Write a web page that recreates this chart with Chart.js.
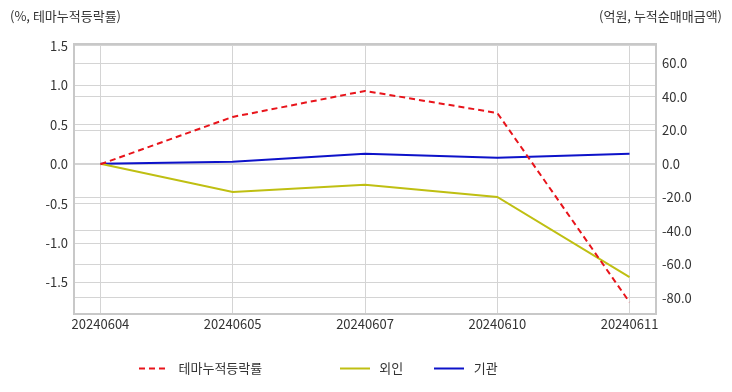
<!DOCTYPE html>
<html>
<head>
<meta charset="utf-8">
<script src="https://cdn.jsdelivr.net/npm/chart.js@4.4.1/dist/chart.umd.min.js"></script>
<style>
html,body{margin:0;padding:0;background:#fff;}
#wrap{width:732px;height:392px;position:relative;}
</style>
</head>
<body>
<div id="wrap"><canvas id="c" width="732" height="392"></canvas></div>
<script>
// data
const dates=["20240604","20240605","20240607","20240610","20240611"];
const themeRate=[0.0,0.60,0.93,0.65,-1.75];     // %, left axis
const foreign=[0.0,-16.8,-12.6,-19.8,-67.7];    // 억원, right axis
const inst=[0.0,1.2,6.0,3.6,6.0];               // 억원, right axis
const leftTicks=[-1.5,-1.0,-0.5,0.0,0.5,1.0,1.5];
const rightTicks=[-80,-60,-40,-20,0,20,40,60];

const FONT="'Noto Sans CJK KR','Noto Sans',sans-serif";
const TXT="#333";
const GRID="#d4d4d4";

const toPts=arr=>arr.map((v,i)=>({x:i,y:v}));

// little line swatch for legend
function swatch(color,dash){
  const c=document.createElement("canvas");c.width=30;c.height=4;
  const g=c.getContext("2d");
  g.strokeStyle=color;g.lineWidth=2;g.setLineDash(dash||[]);
  g.beginPath();g.moveTo(0,2);g.lineTo(30,2);g.stroke();
  return c;
}

// axis captions on top
const captions={
  id:"captions",
  afterDraw(chart){
    const ctx=chart.ctx;
    ctx.save();
    ctx.font="13px "+FONT;
    ctx.fillStyle=TXT;
    ctx.textBaseline="middle";
    ctx.textAlign="left";
    ctx.fillText("(%, 테마누적등락률)",10,16);
    ctx.textAlign="right";
    ctx.fillText("(억원, 누적순매매금액)",722,16);
    ctx.restore();
  }
};
// frame around plot
const frame={
  id:"frame",
  beforeDatasetsDraw(chart){
    const a=chart.chartArea,ctx=chart.ctx;
    ctx.save();
    ctx.strokeStyle="#c8c8c8";ctx.lineWidth=2;
    ctx.strokeRect(a.left,a.top,a.right-a.left,a.bottom-a.top);
    ctx.restore();
  }
};
// shift legend so it sits where the reference's does
const legendShift={
  id:"legendShift",
  afterLayout(chart){
    const l=chart.legend;
    l.left+=108;l.right+=108;l.top-=5;l.bottom-=5;
  }
};

new Chart(document.getElementById("c"),{
  type:"line",
  data:{datasets:[
    {label:"테마누적등락률"+"\u00a0".repeat(16),data:toPts(themeRate),yAxisID:"yL",borderColor:"#e8141b",backgroundColor:"#e8141b",borderWidth:2,borderDash:[6,4],pointRadius:0,tension:0},
    {label:"외인",data:toPts(foreign),yAxisID:"yR",borderColor:"#bfbf12",backgroundColor:"#bfbf12",borderWidth:2,pointRadius:0,tension:0},
    {label:"기관",data:toPts(inst),yAxisID:"yR",borderColor:"#0d12c9",backgroundColor:"#0d12c9",borderWidth:2,pointRadius:0,tension:0}
  ]},
  options:{
    responsive:false,animation:false,
    layout:{padding:{top:44,bottom:2,left:0,right:0}},
    plugins:{
      legend:{position:"bottom",align:"start",
        labels:{usePointStyle:true,pointStyleWidth:36,boxHeight:13,padding:28,color:TXT,font:{family:FONT,size:13},
          generateLabels(chart){
            return Chart.defaults.plugins.legend.labels.generateLabels(chart).map(it=>{
              const ds=chart.data.datasets[it.datasetIndex];
              it.pointStyle=swatch(ds.borderColor,ds.borderDash);
              return it;
            });
          }}},
      tooltip:{enabled:false}
    },
    scales:{
      x:{type:"linear",min:-0.2,max:4.2,
        afterBuildTicks:s=>{s.ticks=dates.map((d,i)=>({value:i}));},
        afterFit:s=>{s.height=25;},
        ticks:{callback:v=>dates[v],color:TXT,font:{family:FONT,size:13},maxRotation:0,padding:2},
        grid:{color:GRID,drawTicks:false},border:{display:false}},
      yL:{position:"left",min:-1.9,max:1.525,
        afterBuildTicks:s=>{s.ticks=leftTicks.map(v=>({value:v}));},
        afterFit:s=>{s.width=74;},
        ticks:{callback:v=>v.toFixed(1),color:TXT,font:{family:FONT,size:13},padding:6},
        grid:{color:GRID,drawTicks:false},border:{display:false}},
      yR:{position:"right",min:-89.8,max:71.6,
        afterBuildTicks:s=>{s.ticks=rightTicks.map(v=>({value:v}));},
        afterFit:s=>{s.width=76;},
        ticks:{callback:v=>v.toFixed(1),color:TXT,font:{family:FONT,size:13},padding:6},
        grid:{color:GRID,drawTicks:false},border:{display:false}}
    }
  },
  plugins:[captions,frame,legendShift]
});
</script>
</body>
</html>
